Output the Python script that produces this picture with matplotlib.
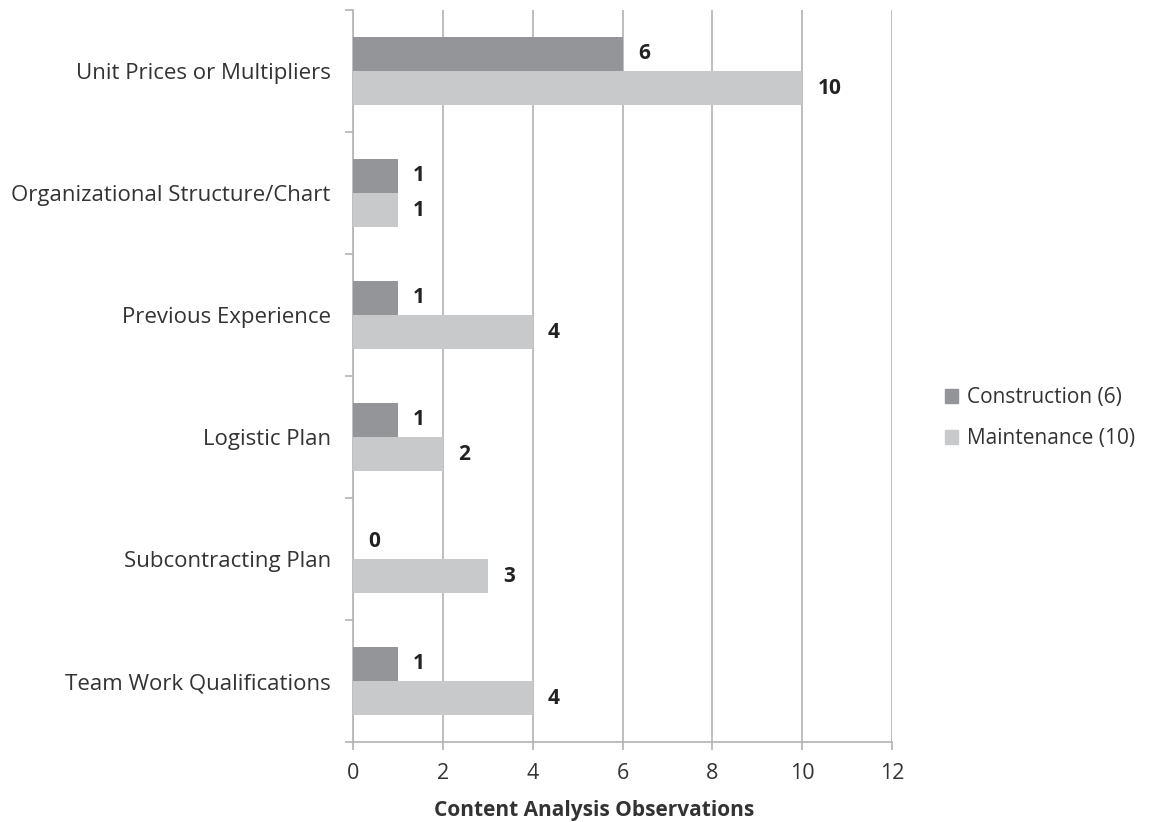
import numpy as np
import matplotlib
matplotlib.use('Agg')
from matplotlib import pyplot as plt
from matplotlib.patches import Patch

# data, listed top to bottom as in the chart
categories = ['Unit Prices or Multipliers', 'Organizational Structure/Chart',
              'Previous Experience', 'Logistic Plan', 'Subcontracting Plan',
              'Team Work Qualifications']
construction = [6, 1, 1, 1, 0, 1]
maintenance = [10, 1, 4, 2, 3, 4]
series_names = ['Construction (6)', 'Maintenance (10)']
x_ticks = [0, 2, 4, 6, 8, 10, 12]

c_dark = '#939598'
c_light = '#c8c9cb'
grid_c = '#b3b3b3'
text_c = '#333333'

plt.rcParams['font.family'] = ['Open Sans', 'DejaVu Sans']

fig = plt.figure(figsize=(11.53, 8.22), dpi=100)
ax = fig.add_axes([353 / 1153, 1 - 742 / 822, (892 - 353) / 1153, (742 - 10) / 822])

y = np.arange(len(categories))
h = 0.28
ax.barh(y - h / 2, construction, height=h, color=c_dark, zorder=3)
ax.barh(y + h / 2, maintenance, height=h, color=c_light, zorder=3)

for i in range(len(categories)):
    ax.annotate(str(construction[i]), (construction[i], y[i] - h / 2), xytext=(11, 0),
                textcoords='offset points', ha='left', va='center',
                fontsize=15, fontweight='bold', color='#222222')
    ax.annotate(str(maintenance[i]), (maintenance[i], y[i] + h / 2), xytext=(11, 0),
                textcoords='offset points', ha='left', va='center',
                fontsize=15, fontweight='bold', color='#222222')

ax.set_xlim(0, 12)
ax.set_ylim(len(categories) - 0.5, -0.5)
ax.set_xticks(x_ticks)
ax.set_xticklabels([str(t) for t in x_ticks], fontsize=15.5, color=text_c)
ax.xaxis.grid(True, color=grid_c, linewidth=1.2, zorder=0)

ax.set_yticks(y)
ax.set_yticklabels(categories, fontsize=16, color=text_c)
ax.tick_params(axis='y', length=0, pad=16)
ax.set_yticks(np.arange(len(categories) + 1) - 0.5, minor=True)
ax.tick_params(axis='y', which='minor', length=6, color=grid_c, width=1.2)
ax.tick_params(axis='x', length=6, color=grid_c, width=1.2, pad=9)

for s in ['top', 'right']:
    ax.spines[s].set_visible(False)
for s in ['left', 'bottom']:
    ax.spines[s].set_color(grid_c)
    ax.spines[s].set_linewidth(1.2)

ax.set_xlabel('Content Analysis Observations', fontsize=15, fontweight='bold',
              color=text_c)
ax.xaxis.set_label_coords((594 - 353) / 539, -(810 - 742) / 732)
ax.xaxis.label.set_va('center')

handles = [Patch(color=c_dark), Patch(color=c_light)]
fig.legend(handles, series_names, loc='center left', bbox_to_anchor=(926 / 1153, 1 - 418 / 822),
           frameon=False, fontsize=15, handlelength=0.65, handleheight=0.65,
           handletextpad=0.4, labelspacing=0.95, labelcolor=text_c)

fig.savefig('out.png', dpi=100)
